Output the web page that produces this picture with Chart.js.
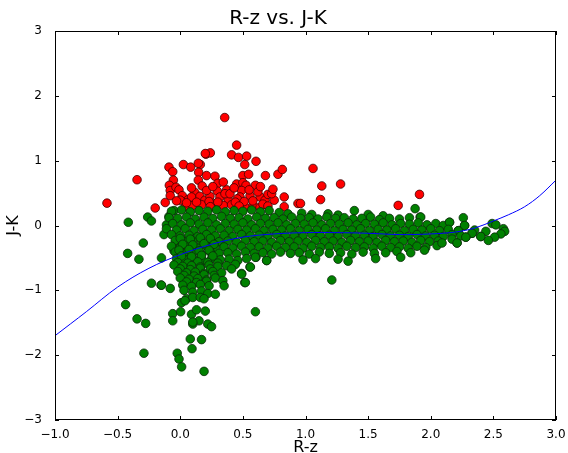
<!DOCTYPE html>
<html lang="en">
<head>
    <meta charset="UTF-8">
    <title>R-z vs. J-K</title>
    <style>
        body { margin: 0; background: #fff; }
        canvas { display: block; }
    </style>
</head>
<body>
    <canvas id="colourChart" width="568" height="453"></canvas>

    <script src="https://cdn.jsdelivr.net/npm/chart.js"></script>

    <script>
        // fitted curve
        const curveX = [-1.0, -0.75, -0.5, -0.25, 0.0, 0.25, 0.5, 0.75, 1.0, 1.25, 1.5, 1.75, 2.0, 2.2, 2.35, 2.5, 2.62, 2.75, 2.87, 3.0];
        const curveY = [-1.70, -1.33, -0.95, -0.66, -0.45, -0.29, -0.18, -0.13, -0.11, -0.11, -0.12, -0.14, -0.13, -0.10, -0.04, 0.07, 0.165, 0.29, 0.46, 0.70];

        const xTicks = [-1.0, -0.5, 0.0, 0.5, 1.0, 1.5, 2.0, 2.5, 3.0];
        const yTicks = [-3, -2, -1, 0, 1, 2, 3];

        // red points (J-K above the cut)
        const redPts = [
            [-0.585, 0.345], [-0.345, 0.706], [-0.20, 0.27], [-0.12, 0.355], [-0.09, 0.90], [-0.06, 0.83],
            [0.025, 0.94], [0.083, 0.90], [-0.055, 0.70], [0.355, 1.665], [0.45, 1.24], [0.205, 1.10],
            [0.24, 1.12], [0.41, 1.09], [0.465, 1.05], [0.53, 1.07], [0.605, 0.99], [0.515, 0.94],
            [0.16, 0.94], [0.147, 0.82], [0.21, 0.77], [0.277, 0.76], [0.144, 0.70], [0.175, 0.61],
            [-0.087, 0.62], [-0.08, 0.54], [-0.034, 0.59], [-0.01, 0.55], [-0.08, 0.46], [0.016, 0.46],
            [0.064, 0.40], [0.117, 0.51], [0.157, 0.45], [0.197, 0.39], [0.237, 0.45], [0.30, 0.65],
            [0.296, 0.53], [0.37, 0.55], [0.317, 0.44], [0.384, 0.39], [0.45, 0.64], [0.50, 0.77],
            [0.546, 0.79], [0.50, 0.66], [0.525, 0.62], [0.60, 0.62], [0.49, 0.54], [0.557, 0.46],
            [0.477, 0.44], [0.637, 0.44], [0.677, 0.39], [0.70, 0.48], [0.68, 0.77], [0.78, 0.79],
            [0.815, 0.865], [0.75, 0.39], [0.83, 0.44], [0.83, 0.29], [0.94, 0.34], [0.04, 0.29],
            [0.10, 0.31], [0.277, 0.29], [0.344, 0.31], [0.41, 0.32], [0.517, 0.29], [0.583, 0.31],
            [0.637, 0.28], [0.0, 0.39], [0.09, 0.44], [0.21, 0.54], [0.357, 0.49], [0.344, 0.67],
            [0.455, 0.41], [0.397, 0.49], [0.264, 0.34], [0.17, 0.32], [0.73, 0.49], [1.06, 0.88],
            [1.13, 0.61], [1.28, 0.64], [1.12, 0.40], [1.74, 0.31], [1.91, 0.48], [0.96, 0.34],
            [0.05, 0.35], [0.13, 0.36], [0.23, 0.37], [0.30, 0.36], [0.44, 0.36], [0.51, 0.37],
            [0.58, 0.38], [0.62, 0.52], [0.43, 0.58], [0.26, 0.60], [0.09, 0.58], [-0.03, 0.38],
            [0.66, 0.33], [0.70, 0.30], [0.24, 0.29], [0.47, 0.30], [0.55, 0.55], [0.144, 0.96],
            [0.20, 1.11], [0.64, 0.60], [0.74, 0.56]
        ];

        // green points: the main band
        const greenBand = [
            [-0.07, 0.22], [0.01, 0.24], [0.08, 0.21], [0.15, 0.23], [0.22, 0.22], [0.29, 0.24], [0.36, 0.21],
            [0.43, 0.23], [0.50, 0.22], [0.57, 0.24], [0.64, 0.21], [0.71, 0.23], [0.79, 0.20], [0.86, 0.18],
            [0.97, 0.19], [1.05, 0.17], [1.18, 0.18], [1.26, 0.16], [1.50, 0.17], [1.62, 0.15],
            [-0.09, 0.12], [-0.02, 0.11], [0.05, 0.13], [0.12, 0.10], [0.19, 0.13], [0.26, 0.11], [0.33, 0.14],
            [0.40, 0.11], [0.47, 0.12], [0.54, 0.10], [0.61, 0.13], [0.68, 0.11], [0.75, 0.12], [0.82, 0.10],
            [0.89, 0.13], [0.96, 0.11], [1.03, 0.12], [1.10, 0.10], [1.17, 0.13], [1.24, 0.11], [1.31, 0.12],
            [1.38, 0.10], [1.45, 0.11], [1.52, 0.13], [1.59, 0.09], [1.67, 0.11], [1.75, 0.10], [1.83, 0.12],
            [1.92, 0.13], [2.26, 0.12],
            [-0.06, 0.03], [0.01, 0.01], [0.08, 0.04], [0.15, 0.02], [0.22, 0.04], [0.29, 0.01], [0.36, 0.03],
            [0.43, 0.02], [0.50, 0.04], [0.57, 0.01], [0.64, 0.03], [0.71, 0.02], [0.78, 0.04], [0.85, 0.01],
            [0.92, 0.03], [0.99, 0.02], [1.06, 0.04], [1.13, 0.01], [1.20, 0.03], [1.27, 0.02], [1.34, 0.04],
            [1.41, 0.01], [1.48, 0.03], [1.55, 0.02], [1.62, 0.04], [1.69, 0.01], [1.76, 0.03], [1.83, 0.02],
            [1.90, 0.04], [1.97, 0.01], [2.04, 0.03], [2.10, 0.0], [2.15, 0.05], [2.27, 0.0],
            [-0.11, -0.05], [-0.03, -0.07], [0.04, -0.05], [0.11, -0.08], [0.18, -0.06], [0.25, -0.07],
            [0.32, -0.05], [0.39, -0.08], [0.46, -0.06], [0.53, -0.07], [0.60, -0.05], [0.67, -0.08],
            [0.74, -0.06], [0.81, -0.07], [0.88, -0.05], [0.95, -0.08], [1.02, -0.06], [1.09, -0.07],
            [1.16, -0.05], [1.23, -0.08], [1.30, -0.06], [1.37, -0.07], [1.44, -0.05], [1.51, -0.08],
            [1.58, -0.06], [1.65, -0.07], [1.72, -0.05], [1.79, -0.08], [1.86, -0.06], [1.93, -0.07],
            [2.00, -0.05], [2.07, -0.08], [2.14, -0.06], [2.22, -0.08], [2.35, -0.07],
            [-0.07, -0.14], [0.0, -0.16], [0.07, -0.15], [0.14, -0.17], [0.21, -0.14], [0.28, -0.16],
            [0.35, -0.15], [0.42, -0.17], [0.49, -0.14], [0.56, -0.16], [0.63, -0.15], [0.70, -0.17],
            [0.77, -0.14], [0.84, -0.16], [0.91, -0.15], [0.98, -0.17], [1.05, -0.14], [1.12, -0.16],
            [1.19, -0.15], [1.26, -0.17], [1.33, -0.14], [1.40, -0.16], [1.47, -0.15], [1.54, -0.17],
            [1.61, -0.14], [1.68, -0.16], [1.75, -0.15], [1.82, -0.17], [1.89, -0.14], [1.96, -0.16],
            [2.03, -0.15], [2.10, -0.17], [2.17, -0.14], [2.24, -0.16], [2.33, -0.12], [2.40, -0.17],
            [-0.04, -0.23], [0.03, -0.25], [0.10, -0.24], [0.17, -0.26], [0.24, -0.23], [0.31, -0.25],
            [0.38, -0.24], [0.45, -0.26], [0.52, -0.23], [0.59, -0.25], [0.66, -0.24], [0.73, -0.26],
            [0.80, -0.23], [0.87, -0.25], [0.94, -0.24], [1.01, -0.26], [1.08, -0.23], [1.15, -0.25],
            [1.22, -0.24], [1.29, -0.26], [1.36, -0.23], [1.43, -0.25], [1.50, -0.24], [1.57, -0.26],
            [1.64, -0.23], [1.71, -0.25], [1.78, -0.24], [1.85, -0.26], [1.92, -0.23], [1.99, -0.25],
            [2.06, -0.24], [2.17, -0.21], [2.21, -0.27], [2.28, -0.18], [2.46, -0.23],
            [-0.07, -0.32], [0.0, -0.34], [0.07, -0.33], [0.14, -0.35], [0.21, -0.32], [0.28, -0.34],
            [0.35, -0.33], [0.42, -0.35], [0.49, -0.32], [0.56, -0.34], [0.63, -0.33], [0.70, -0.35],
            [0.77, -0.32], [0.84, -0.34], [0.91, -0.33], [0.98, -0.35], [1.05, -0.32], [1.12, -0.34],
            [1.19, -0.33], [1.26, -0.35], [1.33, -0.32], [1.40, -0.34], [1.47, -0.33], [1.54, -0.35],
            [1.61, -0.32], [1.68, -0.34], [1.75, -0.33], [1.82, -0.35], [1.89, -0.32], [1.96, -0.34],
            [2.05, -0.31], [2.09, -0.27],
            [-0.04, -0.41], [0.03, -0.43], [0.10, -0.42], [0.17, -0.44], [0.24, -0.41], [0.31, -0.43],
            [0.38, -0.42], [0.45, -0.44], [0.52, -0.41], [0.59, -0.43], [0.66, -0.42], [0.73, -0.44],
            [0.80, -0.41], [0.88, -0.43], [0.95, -0.42], [1.03, -0.44], [1.11, -0.41], [1.19, -0.43],
            [1.28, -0.42], [1.37, -0.44], [1.46, -0.41], [1.55, -0.43], [1.64, -0.42], [1.73, -0.40],
            [1.84, -0.42], [1.95, -0.38],
            [-0.03, -0.51], [0.04, -0.53], [0.11, -0.52], [0.18, -0.54], [0.25, -0.51], [0.32, -0.53],
            [0.39, -0.52], [0.46, -0.54], [0.53, -0.51], [0.60, -0.49], [0.69, -0.54], [0.98, -0.53],
            [1.08, -0.51], [1.26, -0.52], [1.34, -0.55], [1.56, -0.51], [1.76, -0.49]
        ];

        // green points: the dense blob below R-z ~ 0.1
        const greenBlob = [
            [0.0, -0.20], [0.08, -0.21], [0.16, -0.19], [0.24, -0.20],
            [0.02, -0.29], [0.10, -0.30], [0.19, -0.28], [0.27, -0.29],
            [-0.01, -0.38], [0.07, -0.37], [0.15, -0.39], [0.23, -0.38],
            [0.01, -0.47], [0.09, -0.48], [0.17, -0.46], [0.26, -0.47],
            [-0.02, -0.57], [0.06, -0.58], [0.14, -0.56], [0.22, -0.57], [0.30, -0.58],
            [-0.05, -0.61], [0.02, -0.63], [0.09, -0.62], [0.16, -0.64], [0.23, -0.61], [0.30, -0.63],
            [0.37, -0.62], [0.44, -0.60], [0.56, -0.64],
            [0.0, -0.67], [0.08, -0.68], [0.16, -0.66], [0.24, -0.67],
            [-0.02, -0.71], [0.05, -0.73], [0.12, -0.72], [0.19, -0.74], [0.26, -0.71], [0.33, -0.73],
            [0.41, -0.67], [0.49, -0.75],
            [0.03, -0.77], [0.11, -0.78], [0.19, -0.76], [0.27, -0.77],
            [0.0, -0.81], [0.07, -0.83], [0.14, -0.82], [0.21, -0.84], [0.28, -0.81], [0.34, -0.85],
            [0.05, -0.87], [0.13, -0.88], [0.21, -0.86],
            [-0.08, -0.97], [-0.15, -0.92], [0.02, -0.92], [0.09, -0.94], [0.16, -0.91], [0.23, -0.93],
            [0.35, -0.93], [0.52, -0.88],
            [0.03, -1.0], [0.10, -1.03], [0.17, -1.01], [0.22, -1.05], [0.28, -1.06],
            [0.01, -1.19], [0.05, -1.13], [0.10, -1.11], [0.16, -1.11], [0.19, -1.13], [0.038, -1.16]
        ];

        // green points: scattered ones
        const greenOut = [
            [-0.415, 0.05], [-0.26, 0.13], [-0.23, 0.07], [-0.295, -0.27], [-0.42, -0.43], [-0.33, -0.52],
            [-0.15, -0.50], [-0.13, -0.14], [-0.11, 0.01], [-0.09, 0.14], [-0.05, 0.23], [-0.23, -0.89],
            [-0.436, -1.22], [-0.345, -1.44], [-0.276, -1.51], [-0.29, -1.97], [-0.06, -1.36], [-0.06, -1.47],
            [0.003, -1.33], [-0.024, -1.97], [-0.01, -2.06], [0.011, -2.18], [0.08, -1.75], [0.094, -1.90],
            [0.17, -1.76], [0.19, -2.25], [0.22, -1.52], [0.25, -1.56], [0.20, -1.32], [0.15, -1.47],
            [0.10, -1.52], [0.09, -1.37], [0.13, -1.30], [0.10, -1.49], [0.60, -1.33], [0.515, -0.88],
            [0.49, -0.74], [0.557, -0.64], [0.69, -0.54], [0.605, -0.49], [1.21, -0.84], [1.39, 0.23],
            [1.875, 0.26], [1.51, 0.13], [1.915, 0.13], [2.49, 0.03], [2.52, 0.01], [2.58, -0.05],
            [2.59, -0.09], [2.56, -0.13], [2.51, -0.18], [2.44, -0.09], [2.40, -0.17], [2.33, -0.12],
            [2.28, -0.18], [2.21, -0.27], [2.27, 0.0], [2.22, -0.08], [2.15, 0.05], [-0.03, -0.26],
            [-0.05, -0.39], [-0.153, -0.92]
        ];

        const toXY = pts => pts.map(p => ({ x: p[0], y: p[1] }));
        const minus = s => String(s).replace('-', '\u2212');

        // ticks pointing inwards on all four sides + frame
        const frameTicks = {
            id: 'frameTicks',
            afterDatasetsDraw(chart) {
                const { ctx, chartArea: a, scales: { x, y } } = chart;
                ctx.save();
                ctx.strokeStyle = '#000';
                ctx.lineWidth = 1;
                ctx.beginPath();
                xTicks.forEach(v => {
                    const px = Math.round(x.getPixelForValue(v)) + 0.5;
                    ctx.moveTo(px, a.bottom); ctx.lineTo(px, a.bottom - 4);
                    ctx.moveTo(px, a.top); ctx.lineTo(px, a.top + 4);
                });
                yTicks.forEach(v => {
                    const py = Math.round(y.getPixelForValue(v)) + 0.5;
                    ctx.moveTo(a.left, py); ctx.lineTo(a.left + 4, py);
                    ctx.moveTo(a.right, py); ctx.lineTo(a.right - 4, py);
                });
                ctx.stroke();
                ctx.strokeRect(Math.round(a.left) + 0.5, Math.round(a.top) + 0.5,
                    Math.round(a.width) - 1, Math.round(a.height) - 1);
                ctx.restore();
            }
        };

        Chart.defaults.font.family = 'DejaVu Sans';
        Chart.defaults.color = '#000';

        const ctx = document.getElementById('colourChart').getContext('2d');
        new Chart(ctx, {
            type: 'scatter',
            data: {
                datasets: [
                    {
                        type: 'line',
                        data: curveX.map((v, i) => ({ x: v, y: curveY[i] })),
                        borderColor: '#0000ff',
                        borderWidth: 1,
                        pointRadius: 0,
                        tension: 0.35,
                        fill: false
                    },
                    {
                        data: toXY(greenOut.concat(greenBand, greenBlob)),
                        backgroundColor: '#008000',
                        borderColor: '#0a2a0a',
                        borderWidth: 0.8,
                        pointRadius: 4.3
                    },
                    {
                        data: toXY(redPts),
                        backgroundColor: '#ff0000',
                        borderColor: '#3a0000',
                        borderWidth: 0.8,
                        pointRadius: 4.3
                    }
                ]
            },
            options: {
                responsive: false,
                animation: false,
                layout: { padding: { left: 0, right: 12, top: 0, bottom: 0 } },
                scales: {
                    x: {
                        type: 'linear',
                        min: -1, max: 3,
                        afterBuildTicks: s => { s.ticks = xTicks.map(v => ({ value: v })); },
                        afterFit: s => { s.height = 33; s.paddingLeft = 0; s.paddingRight = 0; },
                        grid: { display: false },
                        border: { display: false },
                        ticks: {
                            font: { size: 12 },
                            padding: 0,
                            maxRotation: 0,
                            callback: v => minus(Number(v).toFixed(1))
                        },
                        title: { display: true, text: 'R-z', font: { size: 16 }, padding: { top: 0, bottom: -4 } }
                    },
                    y: {
                        type: 'linear',
                        min: -3, max: 3,
                        afterBuildTicks: s => { s.ticks = yTicks.map(v => ({ value: v })); },
                        afterFit: s => { s.width = 55; s.paddingTop = 0; s.paddingBottom = 0; },
                        grid: { display: false },
                        border: { display: false },
                        ticks: { font: { size: 12 }, padding: 5, callback: v => minus(v) },
                        title: { display: true, text: 'J-K', font: { size: 16 }, padding: { top: 4, bottom: 0 } }
                    }
                },
                plugins: {
                    legend: { display: false },
                    tooltip: { enabled: false },
                    title: {
                        display: true,
                        text: 'R-z vs. J-K',
                        font: { size: 20, weight: 'normal' },
                        padding: { top: 7, bottom: 0 }
                    }
                }
            },
            plugins: [frameTicks]
        });
    </script>
</body>
</html>
